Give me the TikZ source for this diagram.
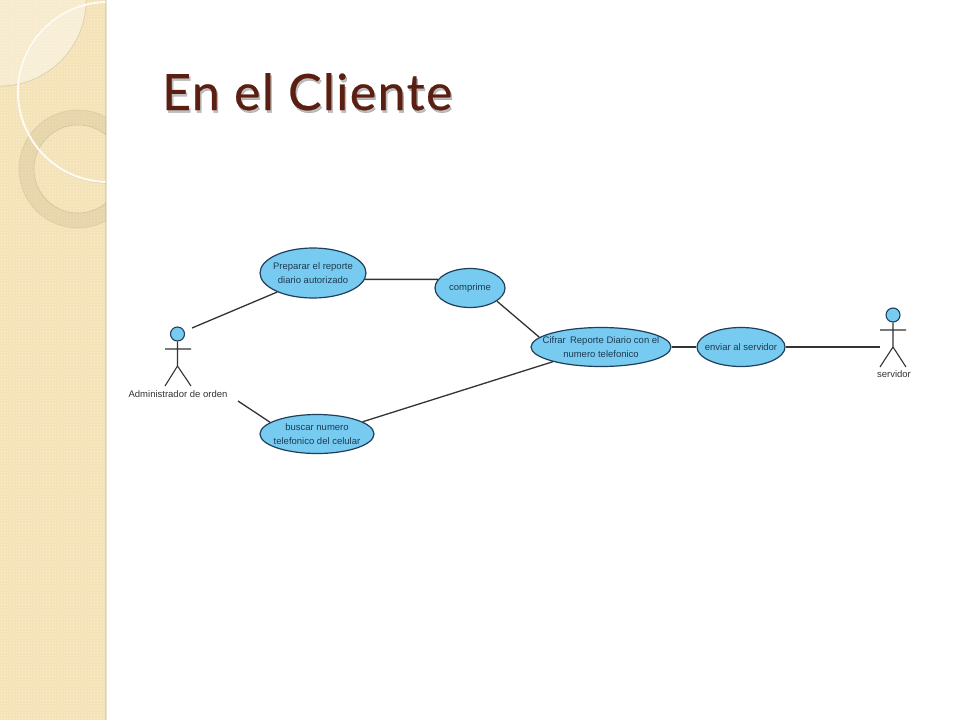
\documentclass[tikz,border=0pt]{standalone}
\usepackage{fontspec}
\setmainfont{Liberation Sans}
\newfontfamily\titlefont[LetterSpace=3.0,FakeBold=0.5]{Lato}
\usetikzlibrary{shapes.geometric,patterns}
\definecolor{sidebase}{HTML}{F4E2B6}
\definecolor{sidedot}{HTML}{FBF2D8}
\definecolor{ringc}{HTML}{B9A77E}
\definecolor{ucfill}{HTML}{78CBF0}
\definecolor{ucline}{HTML}{1F3F5C}
\definecolor{uctext}{HTML}{1D3A52}
\definecolor{linec}{HTML}{333333}
\definecolor{titlec}{HTML}{5A1F10}
\tikzset{
  usecase/.style={ellipse,draw=ucline,fill=ucfill,line width=1.2pt,inner sep=-14pt,align=center,
    text=uctext,font=\fontsize{9.5}{14.5}\selectfont},
  conn/.style={draw=linec,line width=1.3pt},
  stick/.style={draw=linec,line width=1.1pt},
  head/.style={circle,draw=ucline,fill=ucfill,line width=1.1pt,minimum size=14pt,inner sep=0pt},
  actorlabel/.style={text=linec,font=\fontsize{9.5}{11}\selectfont,inner sep=0pt}
}
\begin{document}
\begin{tikzpicture}[x=1pt,y=-1pt]
\useasboundingbox (0,0) rectangle (960,720);
\fill[white] (0,0) rectangle (960,720);
% sidebar
\begin{scope}
\clip (0,0) rectangle (106,720);
\fill[sidebase] (0,0) rectangle (106,720);
\fill[pattern=crosshatch dots,pattern color=sidedot] (0,0) rectangle (106,720);
% light corner
\fill[white,opacity=0.3] (0,0) -- (86,0) arc[start angle=0,end angle=90,radius=86] -- cycle;
\draw[ringc,opacity=0.4,line width=0.8pt] (86,0) arc[start angle=0,end angle=90,radius=86];
% lens
\begin{scope}
\clip (108,92) circle[radius=90];
\fill[white,opacity=0.2] (0,0) -- (86,0) arc[start angle=0,end angle=90,radius=86] -- cycle;
\end{scope}
% second ring
\draw[ringc,opacity=0.22,line width=15pt] (78,169) circle[radius=51.5];
\draw[ringc,opacity=0.3,line width=0.6pt] (78,169) circle[radius=59];
\draw[ringc,opacity=0.45,line width=0.6pt] (78,169) circle[radius=44];
% big ring
\draw[ringc,opacity=0.4,line width=1pt] (108.8,92.6) circle[radius=90.5];
\draw[white!85!sidebase,line width=2pt] (108,92) circle[radius=90];
\end{scope}
\fill[ringc,opacity=0.3] (105,0) rectangle (107,720);
% title
\node[anchor=base west,inner sep=0pt,text=black,opacity=0.25,font=\titlefont\fontsize{50}{55}\selectfont]
    at (163.5,112.5) {En el Cliente};
\node (title) [anchor=base west,inner sep=0pt,text=titlec,font=\titlefont\fontsize{50}{55}\selectfont]
  at (162,110) {En el Cliente};
% use cases
\node (prep) [usecase,minimum width=106pt,minimum height=50pt] at (313,273) {Preparar el reporte\\diario autorizado};
\node (comp) [usecase,minimum width=70pt,minimum height=39pt] at (470,288) {comprime};
\node (cifr) [usecase,minimum width=140pt,minimum height=39pt] at (601,347) {Cifrar\, Reporte Diario con el\\numero telefonico};
\node (envi) [usecase,minimum width=88pt,minimum height=39pt] at (741,347) {enviar al servidor};
\node (busc) [usecase,minimum width=114pt,minimum height=39pt] at (317,434) {buscar numero\\telefonico del celular};
% actors
\node (adminhead) [head] at (177.5,334) {};
\coordinate (adminhip) at (177.5,366);
\coordinate (adminl) at (165,386);
\coordinate (adminr) at (191,386);
\coordinate (adminal) at (165,349);
\coordinate (adminar) at (191,349);
\draw[stick] (adminhead) -- (adminhip) (adminal) -- (adminar) (adminl) -- (adminhip) -- (adminr);
\node (admin) [actorlabel] at (178,394) {Administrador de orden};
\node (servhead) [head] at (893,315) {};
\coordinate (servhip) at (893,347);
\coordinate (servl) at (880,367);
\coordinate (servr) at (906,367);
\coordinate (serval) at (880,330);
\coordinate (servar) at (906,330);
\draw[stick] (servhead) -- (servhip) (serval) -- (servar) (servl) -- (servhip) -- (servr);
\node (serv) [actorlabel] at (894,374) {servidor};
% connector free ends
\coordinate (admintop) at (192,328);
\coordinate (adminbot) at (238,401);
\coordinate (servleft) at (880,347);
% connectors
\draw[conn] (admintop) -- (prep.208);
\draw[conn] (adminbot) -- (busc.166);
\draw[conn] (prep.-7.5) -- (comp.165);
\draw[conn] (comp.-26.6) -- (cifr.171);
\draw[conn] (busc.15.6) -- (cifr.197);
\draw[conn] (cifr.east) -- (envi.west);
\draw[conn] (envi.east) -- (servleft);
\end{tikzpicture}
\end{document}
